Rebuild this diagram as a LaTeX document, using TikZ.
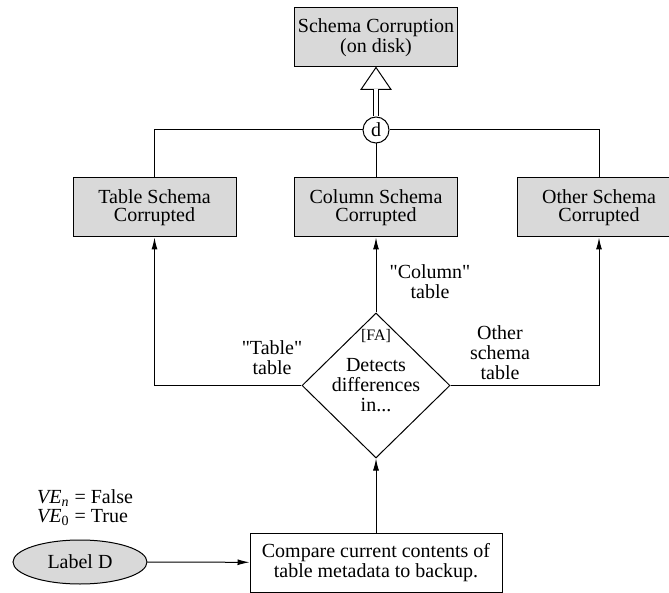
\documentclass[tikz,border=0pt]{standalone}
\usepackage{fontspec}
\setmainfont{Liberation Serif}
\usetikzlibrary{shapes.geometric,arrows.meta,positioning}
\tikzset{
  cbox/.style={draw, fill=gray!30, minimum width=81.5pt, minimum height=29.5pt, inner sep=0pt, align=center},
  actbox/.style={draw, fill=white, minimum width=126pt, minimum height=29.5pt, inner sep=0pt, align=center, font=\fontsize{10}{9}\selectfont},
  decide/.style={diamond, draw, fill=white, aspect=1, minimum width=74pt, minimum height=72.5pt, inner sep=0pt, align=center, font=\fontsize{10}{10}\selectfont},
  lbl/.style={ellipse, draw, fill=gray!30, minimum width=67pt, minimum height=22pt, inner sep=0pt},
  edgetxt/.style={align=center, font=\fontsize{10}{10}\selectfont}
}
\begin{document}
\begin{tikzpicture}[x=0.5pt, y=-0.5pt, line width=0.5pt, font=\fontsize{10}{8.7}\selectfont, >={Latex[length=6pt,width=3pt]}]
  \clip (0,0) rectangle (669,593);
  \node[cbox] (top) at (376,37.5) {Schema Corruption\\(on disk)};
  \foreach \n/\x/\t in {tbl/154.5/Table, col/376/Column, oth/599/Other}{
    \node[cbox] (\n) at (\x,207.5) {\t{} Schema\\Corrupted};
  }
  \node[circle, draw, fill=white, minimum size=13pt, inner sep=0pt] (d) at (376,130) {d};
  \node[decide] (det) at (376,385.5) {Detects\\differences\\in...};
  \node[font=\fontsize{8}{8}\selectfont] (fa) at (376,336) {[FA]};
  \node[actbox] (cmp) at (376,562.5) {Compare current contents of\\table metadata to backup.};
  \node[lbl] (lab) at (80,562) {Label D};
  \node[anchor=west, align=left, font=\fontsize{10}{9.5}\selectfont] (ve) at (30,508)
    {{\itshape VE}\textsubscript{\itshape n} = False\\{\itshape VE}\textsubscript{0} = True};
  % edge labels
  \node[edgetxt] (coltxt) at (430,282) {\textquotedbl Column\textquotedbl\\table};
  \node[edgetxt] (tbltxt) at (272,358) {\textquotedbl Table\textquotedbl\\table};
  \node[edgetxt] (othtxt) at (500,353) {Other\\schema\\table};
  % generalization
  \path (top.south) ++(0,22) coordinate (tb);
  \draw[fill=white] (top.south) -- ([xshift=-7.5pt]tb) -- ([xshift=7.5pt]tb) -- cycle;
  \draw[double, double distance=2.2pt] (tb) -- (d);
  \draw (d) -| (tbl);
  \draw (d) -| (oth);
  \draw (d) -- (col);
  % flow
  \draw[->] (det) -| (tbl);
  \draw[->] (det) -| (oth);
  \draw[->] (det) -- (col);
  \draw[->] (cmp) -- (det);
  \draw[->] (lab) -- (cmp);
\end{tikzpicture}
\end{document}
